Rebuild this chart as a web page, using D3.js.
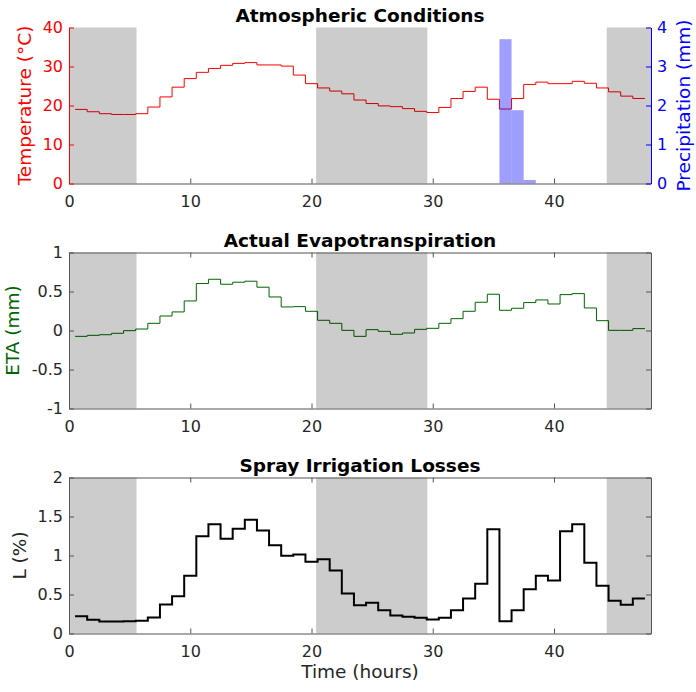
<!DOCTYPE html>
<html>
<head>
  <title>Atmospheric Conditions</title>
  <style>
    body { margin: 0; background: #ffffff; }
    svg { display: block; font-family: "DejaVu Sans", sans-serif; }
  </style>
</head>
<body>
  <div id="chart"></div>

  <script src="https://d3js.org/d3.v7.min.js"></script>
  <script>
    // start of each hourly step (hours); each value holds for one hour
    var hours = [0.5, 1.5, 2.5, 3.5, 4.5, 5.5, 6.5, 7.5, 8.5, 9.5,
      10.5, 11.5, 12.5, 13.5, 14.5, 15.5, 16.5, 17.5, 18.5, 19.5,
      20.5, 21.5, 22.5, 23.5, 24.5, 25.5, 26.5, 27.5, 28.5, 29.5,
      30.5, 31.5, 32.5, 33.5, 34.5, 35.5, 36.5, 37.5, 38.5, 39.5,
      40.5, 41.5, 42.5, 43.5, 44.5, 45.5, 46.5];
    var stepEnd = 47.5;

    var temperature = [19.0, 18.4, 17.9, 17.7, 17.7, 17.9, 19.6, 22.2, 24.7, 26.9,
      28.5, 29.5, 30.3, 30.8, 31.0, 30.4, 30.4, 30.1, 27.8, 25.6,
      24.5, 23.7, 23.0, 21.4, 20.5, 19.9, 19.7, 19.2, 18.5, 18.2,
      19.5, 21.8, 23.6, 24.7, 21.6, 19.1, 21.8, 25.4, 26.0, 25.6,
      25.6, 26.2, 25.7, 24.5, 23.5, 22.4, 21.8];

    var eta = [-0.075, -0.062, -0.054, -0.036, -0.002, 0.019, 0.092, 0.186, 0.238, 0.379,
      0.602, 0.657, 0.593, 0.619, 0.632, 0.555, 0.430, 0.302, 0.306, 0.246,
      0.131, 0.092, 0.002, -0.075, 0.011, -0.011, -0.049, -0.032, 0.015, 0.028,
      0.092, 0.152, 0.246, 0.362, 0.465, 0.259, 0.285, 0.358, 0.392, 0.340,
      0.460, 0.473, 0.289, 0.126, 0.002, 0.002, 0.024];

    var losses = [0.222, 0.175, 0.154, 0.154, 0.158, 0.162, 0.205, 0.372, 0.479, 0.739,
      1.248, 1.402, 1.214, 1.342, 1.457, 1.321, 1.132, 0.996, 1.013, 0.919,
      0.953, 0.808, 0.513, 0.363, 0.393, 0.299, 0.231, 0.214, 0.201, 0.179,
      0.201, 0.299, 0.449, 0.637, 1.338, 0.158, 0.299, 0.568, 0.739, 0.679,
      1.312, 1.402, 0.906, 0.611, 0.419, 0.368, 0.449];

    // rainfall bars, centred on the hour
    var rainHours = [36, 37, 38];
    var rainfall = [3.70, 1.88, 0.09];

    // night periods, shaded grey
    var nightStart = [0, 20.38, 44.35];
    var nightEnd = [5.57, 29.55, 48];

    var xTicks = [0, 10, 20, 30, 40];
    var tempTicks = [0, 10, 20, 30, 40];
    var rainTicks = [0, 1, 2, 3, 4];
    var etaTicks = [-1, -0.5, 0, 0.5, 1];
    var lossTicks = [0, 0.5, 1, 1.5, 2];

    var width = 696, height = 692;
    var left = 69, right = 651;
    var axisColor = "#555555";
    var textColor = "#262626";
    var tickFont = "16px";
    var labelFont = "18.5px";

    var svg = d3.select("#chart")
      .append("svg")
      .attr("width", width)
      .attr("height", height);

    var x = d3.scaleLinear().domain([0, 48]).range([left, right]);

    function stepData(values) {
      var pts = hours.map(function (h, i) { return [h, values[i]]; });
      pts.push([stepEnd, values[values.length - 1]]);
      return pts;
    }

    function shade(g, y) {
      g.selectAll("rect.night")
        .data(nightStart)
        .enter().append("rect")
        .attr("class", "night")
        .attr("x", function (d) { return x(d); })
        .attr("width", function (d, i) { return x(nightEnd[i]) - x(d); })
        .attr("y", y.range()[1])
        .attr("height", y.range()[0] - y.range()[1])
        .attr("fill", "#000000")
        .attr("fill-opacity", 0.2);
    }

    function stepLine(g, y, values, color, w) {
      var line = d3.line()
        .x(function (d) { return x(d[0]); })
        .y(function (d) { return y(d[1]); })
        .curve(d3.curveStepAfter);
      g.append("path")
        .datum(stepData(values))
        .attr("d", line)
        .attr("fill", "none")
        .attr("stroke", color)
        .attr("stroke-width", w);
    }

    function styleAxis(g, lineColor, labelColor) {
      g.selectAll("path, line").attr("stroke", lineColor);
      g.selectAll("text")
        .attr("fill", labelColor)
        .style("font-size", tickFont)
        .style("font-family", "DejaVu Sans");
    }

    function bottomAxis(g, y) {
      var a = g.append("g")
        .attr("transform", "translate(0," + y.range()[0] + ")")
        .call(d3.axisBottom(x).tickValues(xTicks).tickSizeInner(-5)
          .tickSizeOuter(0).tickPadding(12).tickFormat(d3.format("d")));
      styleAxis(a, axisColor, textColor);
    }

    function boxAxes(g, y) {
      var top = g.append("g")
        .attr("transform", "translate(0," + y.range()[1] + ")")
        .call(d3.axisTop(x).tickValues(xTicks).tickSizeInner(-5)
          .tickSizeOuter(0).tickFormat(""));
      styleAxis(top, axisColor, textColor);
    }

    function leftAxis(g, y, ticks, color, labelColor) {
      var a = g.append("g")
        .attr("transform", "translate(" + left + ",0)")
        .call(d3.axisLeft(y).tickValues(ticks).tickSizeInner(-5)
          .tickSizeOuter(0).tickPadding(6).tickFormat(function (d) { return String(d); }));
      styleAxis(a, color, labelColor);
    }

    function rightAxis(g, y, ticks, color, labelColor, withLabels) {
      var a = g.append("g")
        .attr("transform", "translate(" + right + ",0)")
        .call(d3.axisRight(y).tickValues(ticks).tickSizeInner(-5)
          .tickSizeOuter(0).tickPadding(6)
          .tickFormat(withLabels ? function (d) { return String(d); } : ""));
      styleAxis(a, color, labelColor);
    }

    function title(g, text, yPos) {
      g.append("text")
        .attr("x", (left + right) / 2)
        .attr("y", yPos)
        .attr("text-anchor", "middle")
        .attr("fill", "#000000")
        .style("font-size", labelFont)
        .style("font-weight", "bold")
        .text(text);
    }

    function yLabel(g, text, xPos, yMid, color) {
      g.append("text")
        .attr("transform", "translate(" + xPos + "," + yMid + ") rotate(-90)")
        .attr("text-anchor", "middle")
        .attr("fill", color)
        .style("font-size", labelFont)
        .text(text);
    }

    // ---- Atmospheric Conditions ----
    var g1 = svg.append("g");
    var yT = d3.scaleLinear().domain([0, 40]).range([183.5, 27.5]);
    var yP = d3.scaleLinear().domain([0, 4]).range([183.5, 27.5]);
    stepLine(g1, yT, temperature, "#ff0000", 1);
    g1.selectAll("rect.rain")
      .data(rainHours)
      .enter().append("rect")
      .attr("class", "rain")
      .attr("x", function (d) { return x(d - 0.5); })
      .attr("width", function (d) { return x(d + 0.5) - x(d - 0.5); })
      .attr("y", function (d, i) { return yP(rainfall[i]); })
      .attr("height", function (d, i) { return yP(0) - yP(rainfall[i]); })
      .attr("fill", "#0000ff")
      .attr("fill-opacity", 0.38);
    shade(g1, yT);
    bottomAxis(g1, yT);
    leftAxis(g1, yT, tempTicks, "#ff0000", "#ff0000");
    rightAxis(g1, yP, rainTicks, "#0000ff", "#0000ff", true);
    title(g1, "Atmospheric Conditions", 22);
    yLabel(g1, "Temperature (°C)", 31, 105.5, "#ff0000");
    yLabel(g1, "Precipitation (mm)", 690, 105.5, "#0000ff");

    // ---- Actual Evapotranspiration ----
    var g2 = svg.append("g");
    var yE = d3.scaleLinear().domain([-1, 1]).range([408.5, 252.5]);
    stepLine(g2, yE, eta, "#006400", 1);
    shade(g2, yE);
    boxAxes(g2, yE);
    bottomAxis(g2, yE);
    leftAxis(g2, yE, etaTicks, axisColor, textColor);
    rightAxis(g2, yE, etaTicks, axisColor, textColor, false);
    title(g2, "Actual Evapotranspiration", 247);
    yLabel(g2, "ETA (mm)", 19, 330.5, "#006400");

    // ---- Spray Irrigation Losses ----
    var g3 = svg.append("g");
    var yL = d3.scaleLinear().domain([0, 2]).range([633.5, 477.5]);
    stepLine(g3, yL, losses, "#000000", 2);
    shade(g3, yL);
    boxAxes(g3, yL);
    bottomAxis(g3, yL);
    leftAxis(g3, yL, lossTicks, axisColor, textColor);
    rightAxis(g3, yL, lossTicks, axisColor, textColor, false);
    title(g3, "Spray Irrigation Losses", 472);
    yLabel(g3, "L (%)", 26, 555.5, textColor);

    svg.append("text")
      .attr("x", (left + right) / 2)
      .attr("y", 678)
      .attr("text-anchor", "middle")
      .attr("fill", textColor)
      .style("font-size", labelFont)
      .text("Time (hours)");
  </script>
</body>
</html>
